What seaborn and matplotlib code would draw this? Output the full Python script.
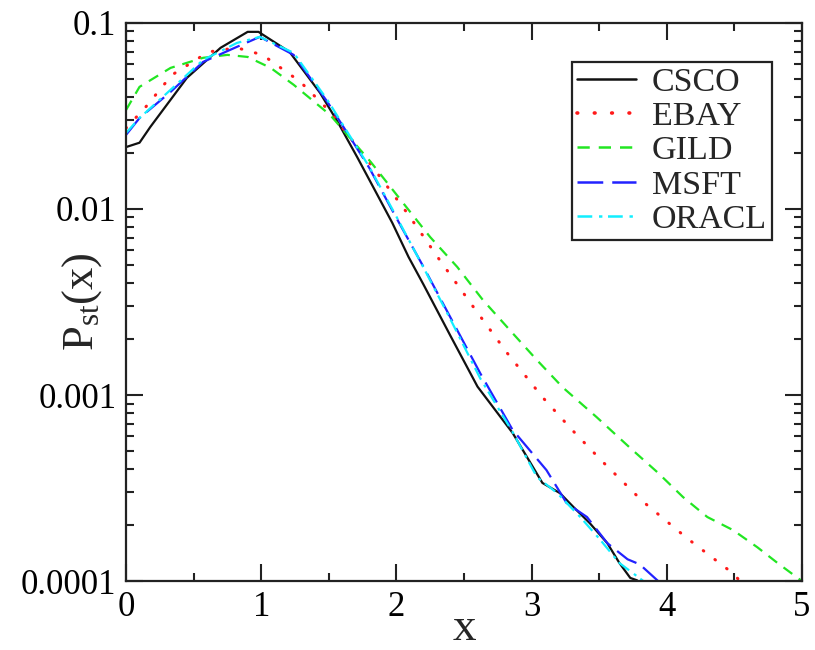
import numpy as np
import pandas as pd
import matplotlib
matplotlib.use("Agg")
import matplotlib.pyplot as plt
from matplotlib.colors import to_hex
from matplotlib.ticker import LogLocator, MultipleLocator, NullFormatter, FixedLocator, FixedFormatter
import seaborn as sns

# ---- data ----
csco_x = [0.00, 0.10, 0.18, 0.45, 0.70, 0.90, 0.98, 1.21, 1.435, 1.57, 1.71, 1.84, 1.97, 2.09, 2.20,
          2.40, 2.60, 2.86, 3.08, 3.21, 3.31, 3.43, 3.56, 3.65, 3.73, 3.78, 3.85]
csco_y = [0.0215, 0.0227, 0.0276, 0.0506, 0.0735, 0.0895, 0.0895, 0.0698, 0.0421, 0.0290, 0.0190,
          0.01265, 0.00841, 0.00552, 0.00393, 0.00208, 0.00111, 0.000625, 0.000337, 0.000297,
          0.000250, 0.000205, 0.000160, 0.000125, 0.000104, 0.000101, 0.000090]

ebay_x = [0.00, 0.14, 0.34, 0.61, 0.82, 1.01, 1.29, 1.51, 1.83, 2.08, 2.32, 2.57, 2.82, 3.08, 3.30,
          3.52, 3.82, 4.15, 4.49, 4.60]
ebay_y = [0.0272, 0.0349, 0.0525, 0.0698, 0.0735, 0.0673, 0.0482, 0.0333, 0.0166, 0.00951, 0.00532,
          0.00297, 0.00168, 0.000975, 0.000649, 0.000442, 0.000269, 0.000170, 0.000110, 0.000090]

gild_x = [0.00, 0.10, 0.33, 0.57, 0.75, 0.90, 1.07, 1.24, 1.51, 1.81, 2.05, 2.25, 2.45, 2.64, 2.84,
          3.04, 3.23, 3.48, 3.73, 3.93, 4.12, 4.30, 4.49, 4.67, 4.82, 5.00]
gild_y = [0.0340, 0.0453, 0.0573, 0.0649, 0.0673, 0.0656, 0.0573, 0.0465, 0.0320, 0.0179, 0.01076,
          0.00706, 0.00488, 0.00324, 0.00223, 0.00154, 0.00110, 0.000762, 0.000519, 0.000385,
          0.000283, 0.000221, 0.000188, 0.000152, 0.000125, 0.000100]

msft_x = [0.00, 0.10, 0.33, 0.57, 0.82, 0.99, 1.24, 1.49, 1.66, 1.80, 2.00, 2.20, 2.40, 2.62, 2.86,
          3.11, 3.26, 3.41, 3.56, 3.71, 3.80, 3.93, 4.00]
msft_y = [0.0250, 0.0308, 0.0426, 0.0617, 0.0743, 0.0841, 0.0673, 0.0376, 0.0241, 0.0166, 0.00895,
          0.00489, 0.00261, 0.00131, 0.000649, 0.000395, 0.000262, 0.000221, 0.000160, 0.000131,
          0.000123, 0.000101, 0.000090]

oracl_x = [0.00, 0.10, 0.33, 0.57, 0.82, 0.99, 1.24, 1.49, 1.66, 1.80, 2.00, 2.20, 2.40, 2.62, 2.86,
           3.04, 3.19, 3.36, 3.51, 3.65, 3.82, 3.90]
oracl_y = [0.0256, 0.0308, 0.0437, 0.0632, 0.0780, 0.0841, 0.0690, 0.0385, 0.0244, 0.0168, 0.0091,
           0.00485, 0.00255, 0.00123, 0.000632, 0.000362, 0.000297, 0.000221, 0.000166, 0.000125,
           0.000101, 0.000090]

names = ["CSCO", "EBAY", "GILD", "MSFT", "ORACL"]
xs = [csco_x, ebay_x, gild_x, msft_x, oracl_x]
ys = [csco_y, ebay_y, gild_y, msft_y, oracl_y]

y_ticks = [0.0001, 0.001, 0.01, 0.1]
y_tick_labels = ["0.0001", "0.001", "0.01", "0.1"]
x_ticks = [0, 1, 2, 3, 4, 5]

df = pd.concat([pd.DataFrame({"x": x, "P": y, "stock": n}) for n, x, y in zip(names, xs, ys)],
               ignore_index=True)

# ---- style ----
sns.set_theme(style="ticks")
plt.rcParams["font.family"] = ["Liberation Serif", "DejaVu Serif"]
plt.rcParams["mathtext.fontset"] = "custom"
plt.rcParams["mathtext.rm"] = "Liberation Serif"
plt.rcParams["mathtext.it"] = "Liberation Serif:italic"

palette = {"CSCO": "#111111", "EBAY": "#ff1a1a", "GILD": "#22e622", "MSFT": "#2222ff", "ORACL": "#11eeff"}
dashes = {"CSCO": "", "EBAY": (0.2, 4.6), "GILD": (4.9, 3.6), "MSFT": (10.3, 3.6),
          "ORACL": (5.9, 2.7, 1.35, 2.25)}

fig = plt.figure(figsize=(8.15, 6.5), dpi=100)
ax = fig.add_axes([0.1546, 0.106, 0.8294, 0.8588])

sns.lineplot(data=df, x="x", y="P", hue="stock", style="stock", palette=palette, dashes=dashes,
             estimator=None, sort=False, linewidth=1.6, ax=ax)

ebay_hex = to_hex(palette["EBAY"])


def style_dotted(line, lw):
    line.set_linewidth(lw)
    line.set_dashes((0.2, 4.6))
    line.set_dash_capstyle("round")


for line in ax.get_lines():
    if to_hex(line.get_color()) == ebay_hex:
        style_dotted(line, 2.2)

ax.set_yscale("log")
ax.set_xlim(0, 5)
ax.set_ylim(0.0001, 0.1)

ax.xaxis.set_major_locator(FixedLocator(x_ticks))
ax.xaxis.set_minor_locator(MultipleLocator(0.5))
ax.yaxis.set_major_locator(FixedLocator(y_ticks))
ax.yaxis.set_major_formatter(FixedFormatter(y_tick_labels))
ax.yaxis.set_minor_locator(LogLocator(base=10, subs=np.arange(2, 10)))
ax.yaxis.set_minor_formatter(NullFormatter())

ax.tick_params(which="both", direction="in", top=True, right=True, width=1.5, colors="#222222",
               labelcolor="black")
ax.tick_params(which="major", length=12, labelsize=25, pad=7)
ax.tick_params(which="minor", length=6)
for s in ax.spines.values():
    s.set_linewidth(1.6)
    s.set_color("#222222")

ax.set_xlabel("x", fontsize=34, labelpad=-12)
ax.set_ylabel(r"P$_{\rm st}$(x)", fontsize=32)
ax.yaxis.set_label_coords(-0.033, 0.50)

handles, labels = ax.get_legend_handles_labels()
pairs = [(h, l) for h, l in zip(handles, labels) if l in names]
leg = ax.legend([p[0] for p in pairs], [p[1] for p in pairs], loc="upper right",
                bbox_to_anchor=(0.9556, 0.930), fontsize=24.5, frameon=True, fancybox=False,
                edgecolor="#222222", framealpha=1, labelspacing=0.1, handlelength=1.75,
                handletextpad=0.45, borderpad=0.15, borderaxespad=0)
leg.get_frame().set_linewidth(1.6)
for lh in leg.get_lines():
    if to_hex(lh.get_color()) == ebay_hex:
        style_dotted(lh, 2.6)
    else:
        lh.set_linewidth(1.8)

fig.savefig("out.png", dpi=100)
